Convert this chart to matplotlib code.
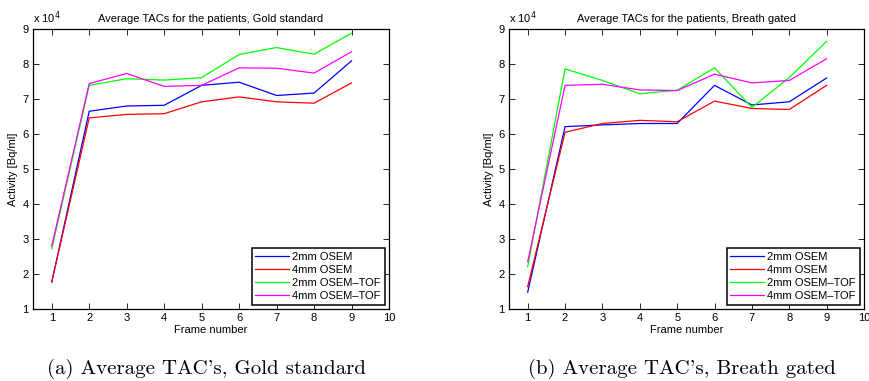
import numpy as np
import matplotlib
matplotlib.use("Agg")
import matplotlib.pyplot as plt
from matplotlib.ticker import FuncFormatter

frames = [1, 2, 3, 4, 5, 6, 7, 8, 9]
labels = ["2mm OSEM", "4mm OSEM", "2mm OSEM\u2013TOF", "4mm OSEM\u2013TOF"]
colors = ["#0000ff", "#ff0000", "#00ff00", "#ff00ff"]

# activity in units of 1e4 Bq/ml
gold_2mm = [1.77, 6.65, 6.80, 6.82, 7.39, 7.48, 7.10, 7.17, 8.09]
gold_4mm = [1.77, 6.46, 6.56, 6.58, 6.92, 7.06, 6.92, 6.88, 7.46]
gold_2mm_tof = [2.72, 7.39, 7.58, 7.54, 7.61, 8.27, 8.47, 8.28, 8.88]
gold_4mm_tof = [2.80, 7.44, 7.73, 7.36, 7.39, 7.89, 7.88, 7.74, 8.35]

gated_2mm = [1.48, 6.21, 6.26, 6.30, 6.30, 7.39, 6.83, 6.92, 7.60]
gated_4mm = [1.64, 6.05, 6.30, 6.39, 6.35, 6.94, 6.73, 6.70, 7.39]
gated_2mm_tof = [2.21, 7.86, 7.53, 7.15, 7.25, 7.89, 6.76, 7.61, 8.65]
gated_4mm_tof = [2.35, 7.39, 7.42, 7.26, 7.24, 7.71, 7.46, 7.53, 8.15]

panels = [
    ("Average TACs for the patients, Gold standard",
     [gold_2mm, gold_4mm, gold_2mm_tof, gold_4mm_tof],
     "(a) Average TAC's, Gold standard"),
    ("Average TACs for the patients, Breath gated",
     [gated_2mm, gated_4mm, gated_2mm_tof, gated_4mm_tof],
     "(b) Average TAC's, Breath gated"),
]

plt.rcParams['font.family'] = ['Liberation Sans', 'DejaVu Sans']
fig = plt.figure(figsize=(8.70, 3.81), dpi=100)
W, H = 870, 381
boxes = [(33, 389), (509, 864)]
top, bottom = 29, 309
fs = 8

for (title, series, caption), (x0, x1) in zip(panels, boxes):
    ax = fig.add_axes([x0 / W, 1 - bottom / H, (x1 - x0) / W, (bottom - top) / H])
    for vals, lab, col in zip(series, labels, colors):
        ax.plot(frames, np.array(vals) * 1e4, color=col, lw=0.9, label=lab)
    ax.set_xlim(0.5, 10)
    ax.set_ylim(1e4, 9e4)
    ax.set_xticks(range(1, 11))
    ax.set_yticks(np.arange(1, 10) * 1e4)
    ax.yaxis.set_major_formatter(FuncFormatter(lambda v, p: f"{v / 1e4:g}"))
    ax.tick_params(direction='in', top=True, right=True, labelsize=fs, length=4, width=0.6, pad=3)
    for s in ax.spines.values():
        s.set_linewidth(0.9)
    ax.set_title(title, fontsize=fs, pad=5)
    ax.set_xlabel("Frame number", fontsize=fs, labelpad=1)
    ax.set_ylabel("Activity [Bq/ml]", fontsize=fs, labelpad=3)
    ax.text(0.0, 1.01, "x 10$^{4}$", transform=ax.transAxes, fontsize=fs, ha='left', va='bottom')
    leg = ax.legend(loc='lower right', fontsize=fs, fancybox=False, framealpha=1,
                    handlelength=3.0, borderpad=0.35, labelspacing=0.25,
                    borderaxespad=0.4, handletextpad=0.3)
    leg.get_frame().set_edgecolor('black')
    leg.get_frame().set_linewidth(1.1)
    fig.text((x0 + x1) / 2 / W - 0.005, 1 - 369 / H, caption, fontsize=15,
             family=['cmr10', 'DejaVu Serif'], ha='center', va='center')

fig.savefig("out.png", dpi=100)
